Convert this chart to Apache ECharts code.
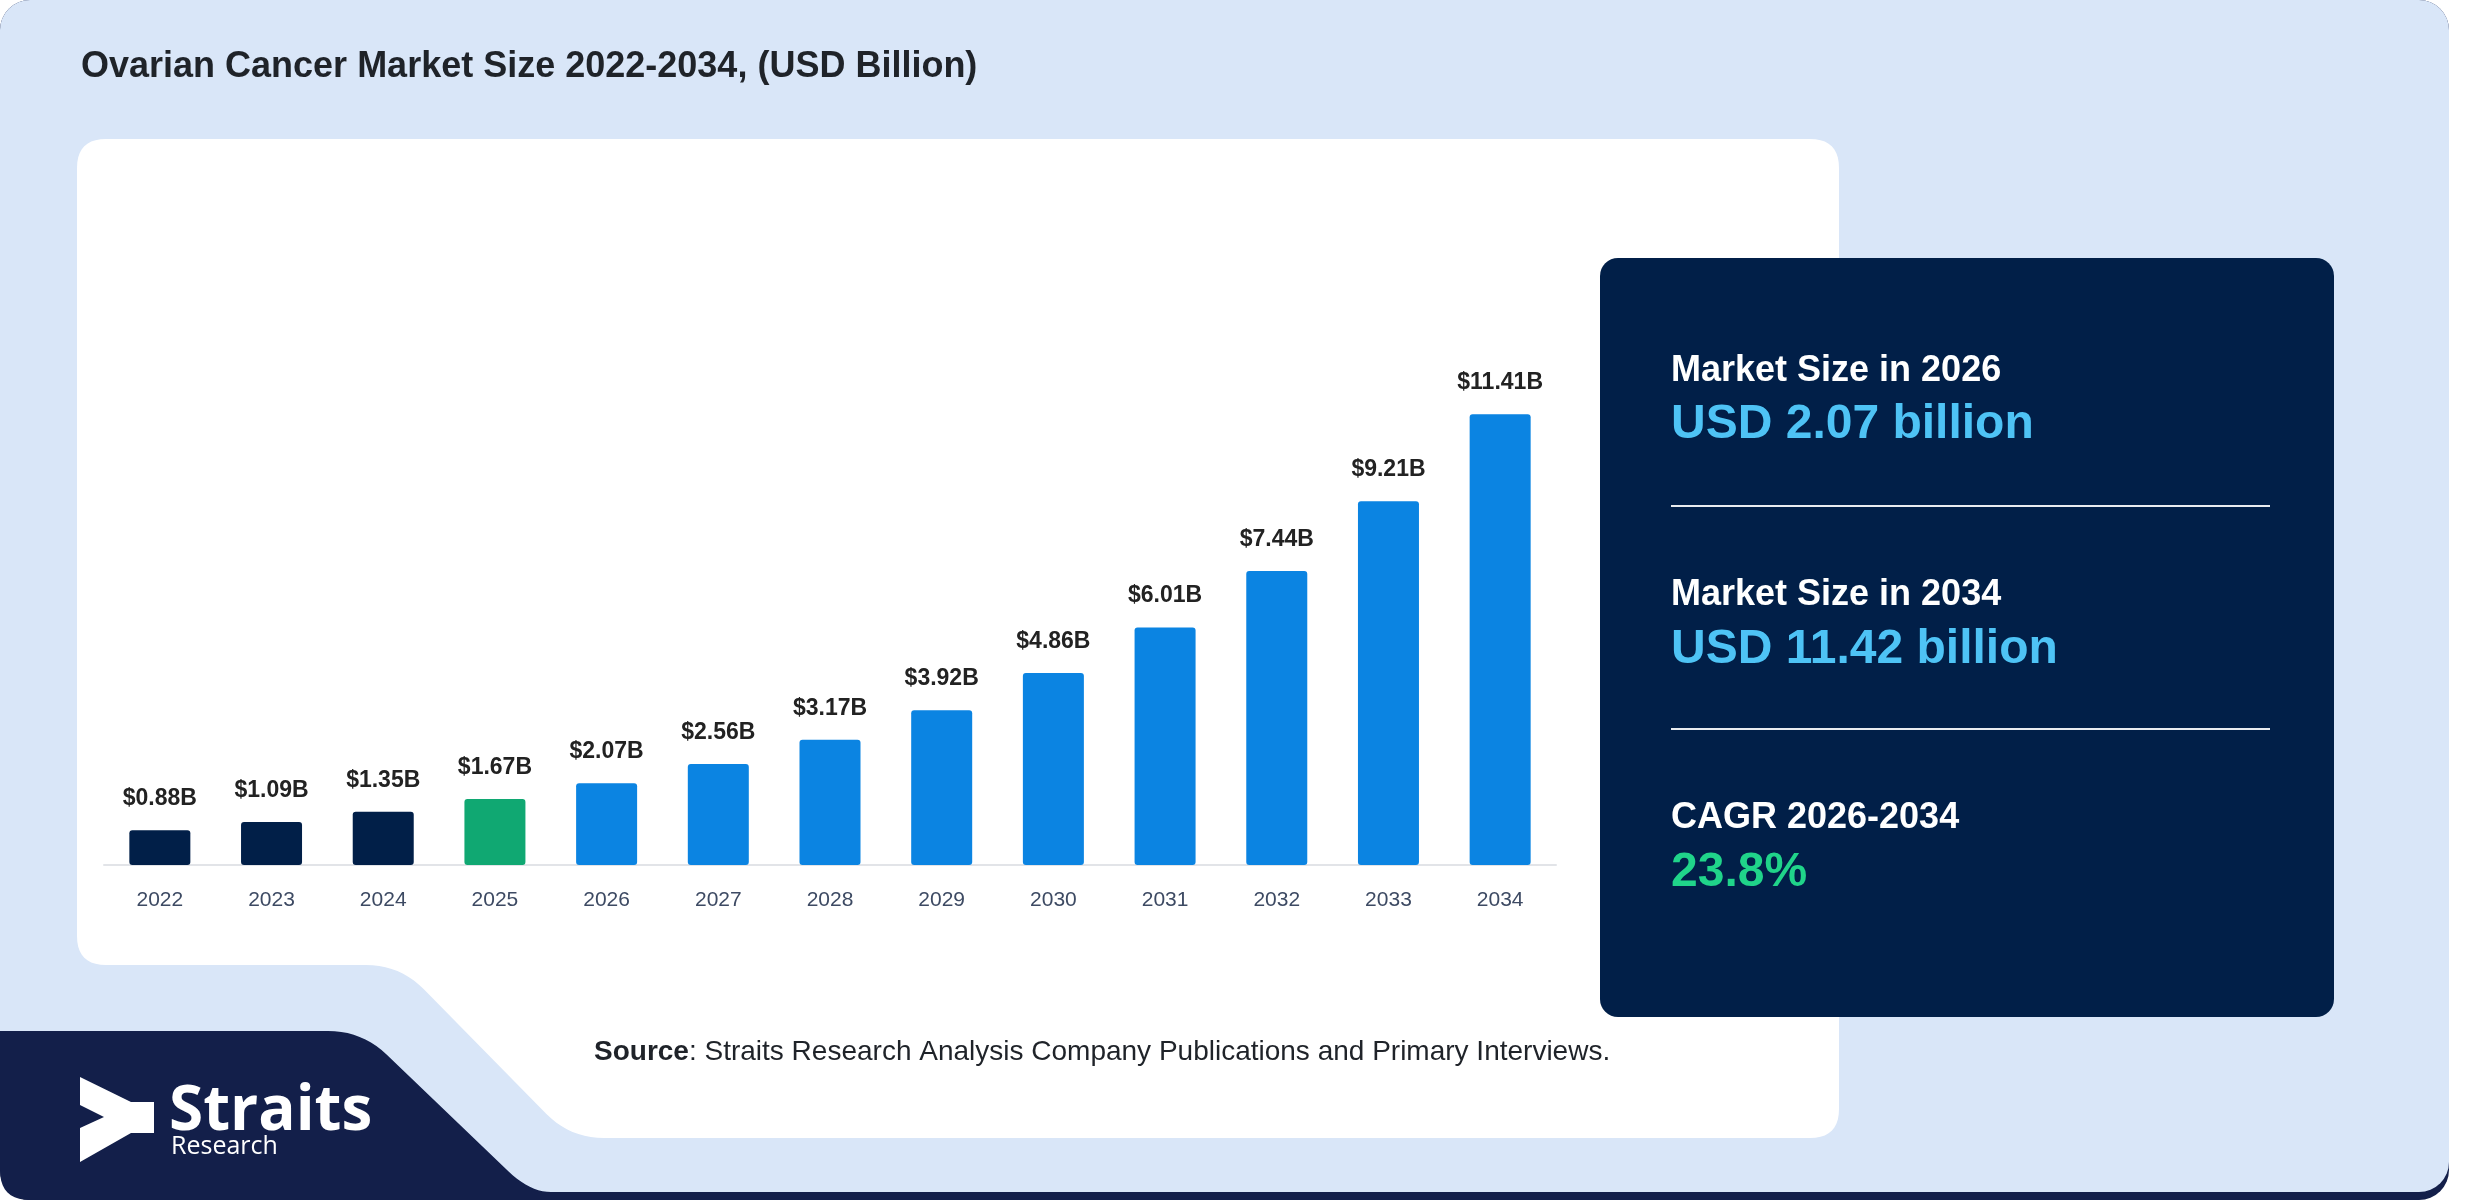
<!DOCTYPE html>
<html>
<head>
<meta charset="utf-8">
<script src="https://cdn.jsdelivr.net/npm/echarts@6/dist/echarts.min.js"></script>
<style>
html,body{margin:0;padding:0;background:#ffffff;}
#chart{width:2480px;height:1200px;}
</style>
</head>
<body>
<div id="chart"></div>
<script>
const years = ['2022','2023','2024','2025','2026','2027','2028','2029','2030','2031','2032','2033','2034'];
const marketSize = [0.88, 1.09, 1.35, 1.67, 2.07, 2.56, 3.17, 3.92, 4.86, 6.01, 7.44, 9.21, 11.41];
const titleText = 'Ovarian Cancer Market Size 2022-2034, (USD Billion)';
const panelLabels = ['Market Size in 2026', 'Market Size in 2034', 'CAGR 2026-2034'];
const panelValues = ['USD 2.07 billion', 'USD 11.42 billion', '23.8%'];
const sourceText = ': Straits Research Analysis Company Publications and Primary Interviews.';

const NAVY = '#011f48', GREEN = '#10a872', BLUE = '#0b84e2';
function barColor(year) {
  const y = +year;
  if (y <= 2024) return NAVY;
  if (y === 2025) return GREEN;
  return BLUE;
}
const FONT = 'Liberation Sans, Arial, sans-serif';

// rounded polygon helper: verts = [[x,y,r],...]
function roundedPoly(verts) {
  const out = [];
  const n = verts.length;
  for (let i = 0; i < n; i++) {
    const P = verts[i], A = verts[(i - 1 + n) % n], B = verts[(i + 1) % n];
    const r = P[2] || 0;
    if (!r) { out.push([P[0], P[1]]); continue; }
    const la = Math.hypot(A[0] - P[0], A[1] - P[1]);
    const lb = Math.hypot(B[0] - P[0], B[1] - P[1]);
    const ra = Math.min(r, la / 2), rb = Math.min(r, lb / 2);
    const P1 = [P[0] + (A[0] - P[0]) * ra / la, P[1] + (A[1] - P[1]) * ra / la];
    const P2 = [P[0] + (B[0] - P[0]) * rb / lb, P[1] + (B[1] - P[1]) * rb / lb];
    const steps = 10;
    for (let s = 0; s <= steps; s++) {
      const t = s / steps, u = 1 - t;
      out.push([u * u * P1[0] + 2 * u * t * P[0] + t * t * P2[0], u * u * P1[1] + 2 * u * t * P[1] + t * t * P2[1]]);
    }
  }
  return out;
}

const chart = echarts.init(document.getElementById('chart'), null, {renderer: 'canvas'});

function txt(text, x, y, size, color, weight) {
  return {
    type: 'text', z: 50,
    style: {
      text: text, x: x, y: y, fill: color,
      font: (weight || 'normal') + ' ' + size + 'px ' + FONT,
      textAlign: 'left', textVerticalAlign: 'middle'
    }
  };
}

const logoShape = roundedPoly([[0,1031,0],[362,1031,34],[530,1192,30],[572,1192,0],[572,1200,0],[0,1200,30]]);
const whitePanel = roundedPoly([[77,139,29],[1839,139,29],[1839,1138,29],[570,1138,34],[400,965,34],[77,965,29]]);

const graphics = [
  {type: 'rect', z: -20, shape: {x: 0, y: 0, width: 2449, height: 1200, r: 30}, style: {fill: '#131f4a'}},
  {type: 'rect', z: -19, shape: {x: 0, y: 0, width: 2449, height: 1192, r: 30}, style: {fill: '#d9e6f8'}},
  {type: 'polygon', z: -18, shape: {points: logoShape}, style: {fill: '#131f4a'}},
  {type: 'polygon', z: -17, shape: {points: whitePanel}, style: {fill: '#ffffff'}},
  {type: 'rect', z: -16, shape: {x: 1600, y: 258, width: 734, height: 759, r: 18}, style: {fill: NAVY}},
  txt(titleText, 81, 67, 36, '#1f2329', 'bold'),
  txt(panelLabels[0], 1671, 371, 36, '#ffffff', 'bold'),
  txt(panelValues[0], 1671, 425, 48, '#4ec3f5', 'bold'),
  {type: 'rect', z: 40, shape: {x: 1671, y: 505, width: 599, height: 2}, style: {fill: '#e8ebf0'}},
  txt(panelLabels[1], 1671, 595, 36, '#ffffff', 'bold'),
  txt(panelValues[1], 1671, 650, 48, '#4ec3f5', 'bold'),
  {type: 'rect', z: 40, shape: {x: 1671, y: 728, width: 599, height: 2}, style: {fill: '#e8ebf0'}},
  txt(panelLabels[2], 1671, 818, 36, '#ffffff', 'bold'),
  txt(panelValues[2], 1671, 873, 48, '#20d48a', 'bold'),
  {
    type: 'text', z: 50,
    style: {
      text: '{b|Source}{n|' + sourceText + '}', x: 594, y: 1052,
      textAlign: 'left', textVerticalAlign: 'middle',
      rich: {
        b: {fontFamily: FONT, fontSize: 28, fontWeight: 'bold', fill: '#1f2329', color: '#1f2329'},
        n: {fontFamily: FONT, fontSize: 28, fontWeight: 'normal', fill: '#1f2329', color: '#1f2329'}
      }
    }
  },
  {type: 'polygon', z: 50, shape: {points: [[80,1077],[131,1102],[154,1102],[154,1133],[131,1133],[80,1162],[80,1128],[104,1117],[80,1105]]}, style: {fill: '#ffffff'}},
  {type: 'text', z: 50, style: {text: 'Straits', x: 169, y: 1112, fill: '#ffffff', font: 'bold 62px Open Sans, sans-serif', textAlign: 'left', textVerticalAlign: 'middle'}},
  {type: 'text', z: 50, style: {text: 'Research', x: 171, y: 1147, fill: '#ffffff', font: 'normal 25px Open Sans, sans-serif', textAlign: 'left', textVerticalAlign: 'middle'}}
];

const option = {
  animation: false,
  backgroundColor: 'transparent',
  grid: {left: 104, right: 924, top: 391, bottom: 335, containLabel: false},
  xAxis: {
    type: 'category',
    data: years,
    axisLine: {show: true, lineStyle: {color: '#e2e4e8', width: 2}},
    axisTick: {show: false},
    axisLabel: {color: '#3d4a63', fontSize: 21, fontFamily: FONT, margin: 25}
  },
  yAxis: {
    type: 'value', min: 0, max: 12, show: false,
    splitLine: {show: false}
  },
  series: [{
    type: 'bar',
    barWidth: 61,
    data: marketSize.map((v, i) => ({value: v, itemStyle: {color: barColor(years[i]), borderRadius: [3, 3, 3, 3]}})),
    label: {
      show: true, position: 'top', distance: 20,
      formatter: p => '$' + p.value.toFixed(2) + 'B',
      color: '#222222', fontSize: 23, fontWeight: 'bold', fontFamily: FONT
    }
  }],
  graphic: {elements: graphics}
};
chart.setOption(option);
</script>
</body>
</html>
